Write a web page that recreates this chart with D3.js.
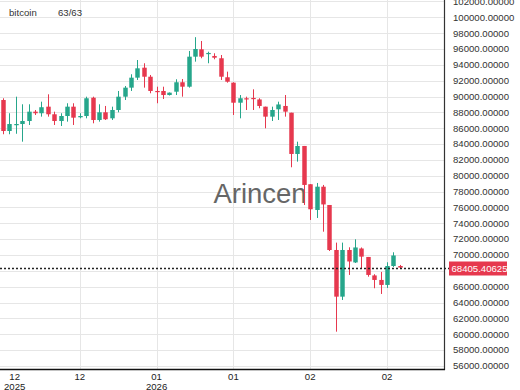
<!DOCTYPE html>
<html>
<head>
<meta charset="utf-8">
<script src="https://cdn.jsdelivr.net/npm/d3@7/dist/d3.min.js"></script>
<style>
  body { margin: 0; background: #fff; }
  svg text { font-family: "Liberation Sans", Arial, sans-serif; }
</style>
</head>
<body>
<svg id="chart" width="520" height="390"></svg>
<script>
// daily candles
const opens  = [89560, 85650, 86470, 86530, 86910, 88090, 87890, 88720, 87760, 86910,
                87540, 88720, 87380, 87540, 89850, 87040, 88010, 87250, 88300, 89980,
                91120, 92380, 93640, 92500, 90700, 90700, 90190, 90610, 91800, 91240,
                95030, 95960, 95370, 95120, 94830, 92430, 91750, 89220, 89780, 89820,
                89630, 88720, 87460, 88390, 88810, 87960, 82750, 83760, 78930, 75680,
                78620, 76310, 70630, 64740, 70630, 69060, 70820, 69750, 67420, 66850,
                66220, 68610, 68610];
const closes = [85650, 86530, 86530, 86910, 88090, 87890, 88650, 87760, 86910, 87540,
                88720, 87330, 87540, 89780, 87040, 88010, 87130, 88300, 89980, 91120,
                92380, 93560, 92500, 90700, 90610, 90190, 90490, 91800, 91240, 95030,
                96000, 95030, 95500, 94900, 92500, 91870, 89220, 89780, 89690, 89730,
                88810, 87460, 88300, 89000, 88090, 82750, 83760, 78840, 75770, 78620,
                76380, 70630, 64740, 70630, 69180, 70950, 69790, 67480, 66850, 66220,
                68610, 69940, 68405.40625];
const highs  = [89780, 87890, 89980, 89020, 89020, 88300, 89350, 90280, 88090, 87890,
                89150, 89150, 87890, 89980, 89980, 89020, 88810, 88720, 90700, 91330,
                92810, 94610, 94200, 92720, 91240, 91240, 90510, 92180, 92210, 95750,
                97490, 97010, 95660, 95460, 95240, 93140, 91800, 90190, 89980, 90910,
                89780, 88720, 88720, 89350, 90190, 87960, 84300, 83760, 78950, 79090,
                78840, 76310, 71560, 71560, 70970, 71980, 70950, 69750, 67570, 67860,
                69080, 70340, 68740];
const lows   = [85240, 85240, 85300, 84300, 86410, 87670, 87460, 87460, 86410, 86280,
                86830, 86410, 87250, 87250, 86620, 86830, 87040, 87040, 88010, 89560,
                90700, 92090, 91120, 90410, 89150, 89690, 90130, 90190, 89980, 91120,
                94400, 94830, 94200, 94700, 92090, 91750, 87670, 87250, 88300, 88300,
                88520, 85990, 86910, 87040, 87460, 81070, 81780, 76310, 74420, 74670,
                72940, 70500, 60320, 64320, 67480, 68990, 68320, 67260, 65800, 65080,
                65840, 68490, 68350];

const seriesName = 'bitcoin';
const lastPrice = 68405.40625;
const tickIndex = [0, 12, 24, 36, 48, 60];
const tickMonth = ['12', '12', '01', '01', '02', '02'];
const tickYear  = ['2025', '', '2026', '', '', ''];
const yTicks = d3.range(56000, 102001, 2000);

const UP = '#26a68b';
const DOWN = '#e6384e';
const plotRight = 444, plotBottom = 369;

const svg = d3.select('#chart');

const x = d3.scaleBand()
    .domain(d3.range(opens.length))
    .range([-0.2, 403])
    .paddingInner(0.3)
    .paddingOuter(0.15);
const y = d3.scaleLinear()
    .domain([56000, 100000])
    .range([365.9, 17.3]);
const cx = i => x(i) + x.bandwidth() / 2;

// grid
const grid = svg.append('g').attr('class', 'grid');
grid.selectAll('line.h')
    .data(yTicks)
    .join('line')
    .attr('class', 'h')
    .attr('x1', 0).attr('x2', plotRight)
    .attr('y1', d => Math.round(y(d)) + 0.5)
    .attr('y2', d => Math.round(y(d)) + 0.5)
    .attr('stroke', '#e6e6e6');
grid.selectAll('line.v')
    .data(tickIndex.slice(1))
    .join('line')
    .attr('class', 'v')
    .attr('x1', d => Math.round(cx(d)) + 0.5)
    .attr('x2', d => Math.round(cx(d)) + 0.5)
    .attr('y1', 0).attr('y2', plotBottom)
    .attr('stroke', '#e6e6e6');

// watermark, under the candles
svg.append('text')
    .attr('x', 260).attr('y', 203)
    .attr('text-anchor', 'middle')
    .attr('font-size', 27.5)
    .attr('fill', '#666')
    .text('Arincen');

// candles
const idx = d3.range(opens.length);
const candles = svg.append('g').attr('class', 'candles');
candles.selectAll('line')
    .data(idx)
    .join('line')
    .attr('x1', i => Math.round(cx(i)) + 0.5)
    .attr('x2', i => Math.round(cx(i)) + 0.5)
    .attr('y1', i => y(highs[i]))
    .attr('y2', i => y(lows[i]))
    .attr('stroke', i => closes[i] >= opens[i] ? UP : DOWN)
    .attr('stroke-width', 1);
candles.selectAll('rect')
    .data(idx)
    .join('rect')
    .attr('x', i => Math.round(cx(i)) + 0.5 - x.bandwidth() / 2)
    .attr('width', x.bandwidth())
    .attr('y', i => y(Math.max(opens[i], closes[i])))
    .attr('height', i => Math.max(1.2, Math.abs(y(opens[i]) - y(closes[i]))))
    .attr('fill', i => closes[i] >= opens[i] ? UP : DOWN);

// axes lines
svg.append('line')
    .attr('x1', plotRight + 0.5).attr('x2', plotRight + 0.5)
    .attr('y1', 0).attr('y2', plotBottom + 1)
    .attr('stroke', '#333').attr('stroke-width', 1.2);
svg.append('line')
    .attr('x1', 0).attr('x2', plotRight + 1)
    .attr('y1', plotBottom + 0.5).attr('y2', plotBottom + 0.5)
    .attr('stroke', '#111').attr('stroke-width', 1.5);

// y labels (the one under the price tag is hidden, as in the original)
const py = Math.round(y(lastPrice)) + 0.5;
svg.append('g')
    .selectAll('text')
    .data(yTicks.filter(d => Math.abs(y(d) - py) > 10))
    .join('text')
    .attr('x', 453)
    .attr('y', d => y(d))
    .attr('dy', '0.35em')
    .attr('font-size', 9.6)
    .attr('fill', '#333')
    .text(d => d3.format('.5f')(d));

// x labels
const xl = svg.append('g')
    .selectAll('text')
    .data(tickIndex)
    .join('text')
    .attr('x', d => cx(d))
    .attr('y', 380)
    .attr('text-anchor', 'middle')
    .attr('font-size', 9.6)
    .attr('fill', '#222');
xl.append('tspan')
    .attr('x', d => cx(d))
    .text((d, i) => tickMonth[i]);
xl.append('tspan')
    .attr('x', d => cx(d))
    .attr('dy', 9.5)
    .text((d, i) => tickYear[i]);
// keep the first label inside the view
xl.each(function(){
    const b = this.getBBox();
    if (b.x < 4){
        d3.select(this).selectAll('tspan').attr('x', +d3.select(this).attr('x') + 4 - b.x);
    }
});

// last price line + tag
svg.append('line')
    .attr('x1', 0).attr('x2', 449)
    .attr('y1', py).attr('y2', py)
    .attr('stroke', '#222')
    .attr('stroke-width', 1.3)
    .attr('stroke-dasharray', '2,2');
svg.append('rect')
    .attr('x', 449).attr('y', py - 7)
    .attr('width', 58).attr('height', 14)
    .attr('fill', DOWN);
svg.append('text')
    .attr('x', 451.5).attr('y', py)
    .attr('dy', '0.35em')
    .attr('font-size', 9.6)
    .attr('fill', '#fff')
    .text(d3.format('.5f')(lastPrice));

// legend
svg.append('text')
    .attr('x', 9).attr('y', 13).attr('dy', '0.35em')
    .attr('font-size', 9.6).attr('fill', '#333')
    .text(seriesName);
svg.append('text')
    .attr('x', 58).attr('y', 13).attr('dy', '0.35em')
    .attr('font-size', 9.6).attr('fill', '#333')
    .text(`${closes.length}/${opens.length}`);
</script>
</body>
</html>
